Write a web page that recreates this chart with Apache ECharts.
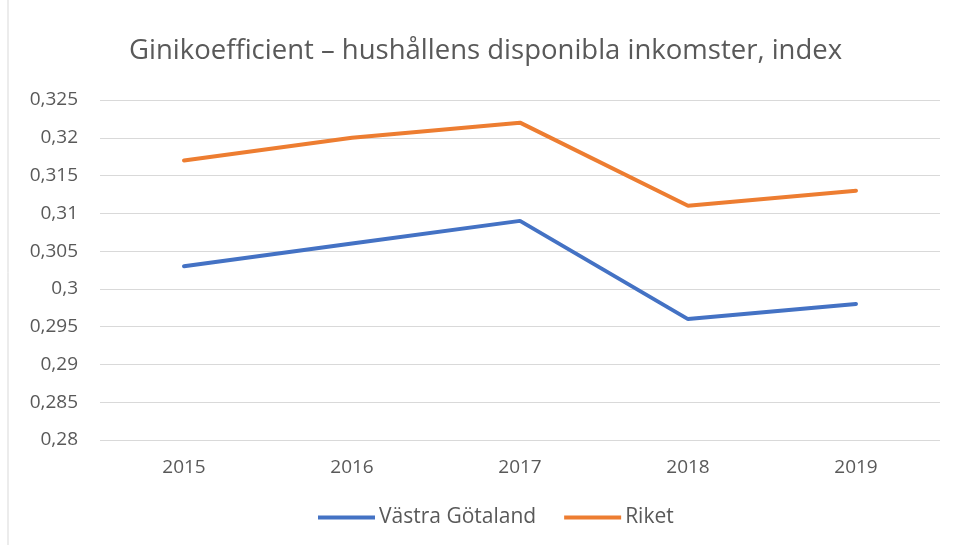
<!DOCTYPE html>
<html>
<head>
<meta charset="utf-8">
<script src="https://cdn.jsdelivr.net/npm/echarts@6/dist/echarts.min.js"></script>
<style>
  html, body { margin: 0; padding: 0; background: #fff; }
  #main { width: 954px; height: 545px; }
</style>
</head>
<body>
<div id="main"></div>
<script>
// data
const years = ['2015', '2016', '2017', '2018', '2019'];
const vastraGotaland = [0.303, 0.306, 0.309, 0.296, 0.298];
const riket = [0.317, 0.320, 0.322, 0.311, 0.313];

const chart = echarts.init(document.getElementById('main'));
const font = '"Open Sans", "Noto Sans", sans-serif';

const option = {
  backgroundColor: '#fff',
  animation: false,
  title: {
    text: 'Ginikoefficient – hushållens disponibla inkomster, index',
    left: 124,
    top: 32,
    textStyle: { fontFamily: font, fontSize: 27.5, fontWeight: 'normal', color: '#595959' }
  },
  graphic: [
    // left frame line of the chart box
    { type: 'line', shape: { x1: 8, y1: 0, x2: 8, y2: 545 }, style: { stroke: '#d9d9d9', lineWidth: 1 } }
  ],
  grid: { left: 100, right: 14, top: 100, bottom: 105, containLabel: false },
  legend: {
    bottom: 12,
    left: 313,
    itemWidth: 57,
    itemHeight: 4,
    itemGap: 28,
    icon: 'rect',
    textStyle: { fontFamily: font, fontSize: 21, color: '#595959', padding: [0, 0, 0, -1] },
    data: ['Västra Götaland', 'Riket']
  },
  xAxis: {
    type: 'category',
    data: years,
    boundaryGap: true,
    axisLine: { show: false },
    axisTick: { show: false },
    axisLabel: { fontFamily: font, fontSize: 19, color: '#595959', margin: 18 }
  },
  yAxis: {
    type: 'value',
    min: 0.28,
    max: 0.325,
    interval: 0.005,
    axisLine: { show: false },
    axisTick: { show: false },
    splitLine: { lineStyle: { color: '#d9d9d9', width: 1 } },
    axisLabel: {
      fontFamily: font, fontSize: 19, color: '#595959', margin: 22,
      formatter: v => String(parseFloat(v.toFixed(3))).replace('.', ',')
    }
  },
  series: [
    {
      name: 'Västra Götaland', type: 'line', data: vastraGotaland,
      symbol: 'none', color: '#4472C4',
      lineStyle: { width: 4, color: '#4472C4', cap: 'round' }
    },
    {
      name: 'Riket', type: 'line', data: riket,
      symbol: 'none', color: '#ED7D31',
      lineStyle: { width: 4, color: '#ED7D31', cap: 'round' }
    }
  ]
};
chart.setOption(option);
</script>
</body>
</html>
